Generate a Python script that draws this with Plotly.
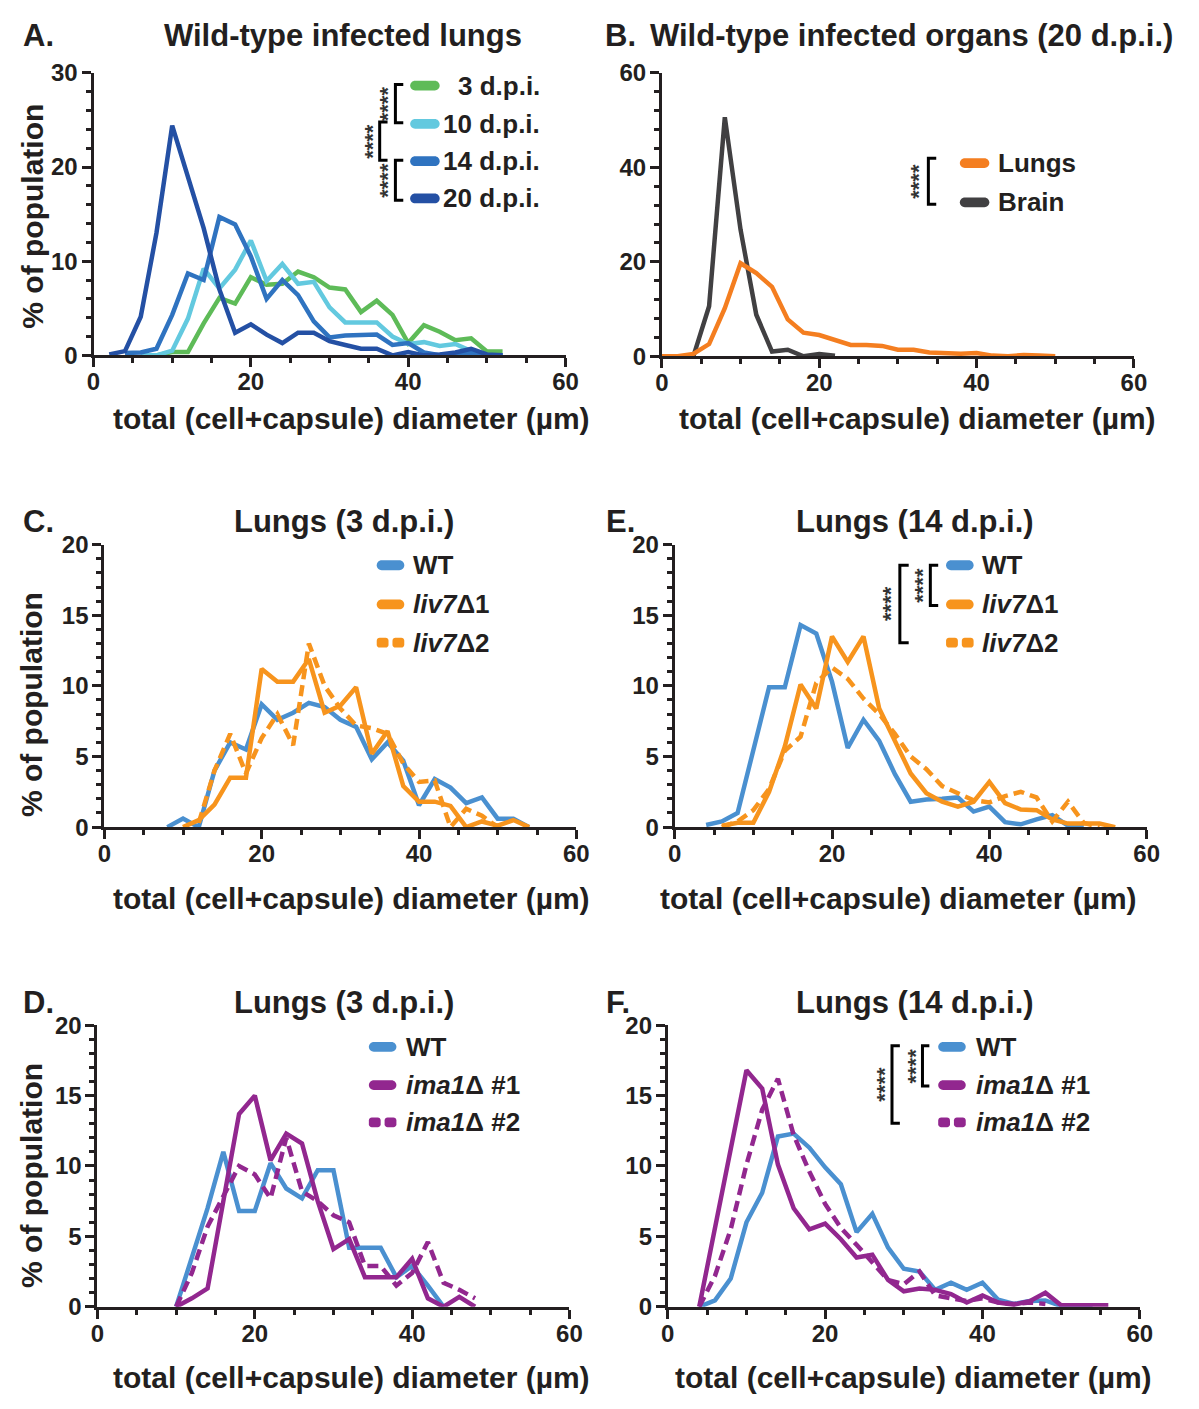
import plotly.graph_objects as go

W, H = 1199, 1409
INK = "#231F20"
FONT = "Liberation Sans"

# ---------------- data ----------------
# Panel A: wild-type infected lungs
a_x_3 = [8, 10, 12, 14, 16, 18, 20, 22, 24, 26, 28, 30, 32, 34, 36, 38, 40, 42, 44, 46, 48, 50, 52]
a_y_3 = [0, 0.35, 0.35, 3.4, 6.1, 5.5, 8.3, 7.5, 7.6, 8.9, 8.3, 7.2, 7.0, 4.6, 5.8, 4.3, 1.3, 3.2, 2.5, 1.6, 1.8, 0.4, 0.4]
a_x_10 = [6, 8, 10, 12, 14, 16, 18, 20, 22, 24, 26, 28, 30, 32, 34, 36, 38, 40, 42, 44, 46, 48, 50, 52]
a_y_10 = [0, 0, 0.5, 3.9, 9.2, 7.1, 9.1, 12.2, 7.9, 9.7, 7.6, 7.8, 5.1, 3.5, 3.5, 3.5, 2.0, 1.2, 1.4, 1.0, 1.2, 0.45, 0, 0]
a_x_14 = [4, 6, 8, 10, 12, 14, 16, 18, 20, 22, 24, 26, 28, 30, 32, 34, 36, 38, 40, 42, 44, 46, 48, 50, 52]
a_y_14 = [0.25, 0.3, 0.7, 4.3, 8.7, 8.0, 14.7, 13.9, 10.5, 6.0, 8.0, 6.4, 3.6, 1.9, 2.1, 2.1, 2.2, 1.1, 1.3, 0.3, 0, 0.2, 0.3, 0, 0]
a_x_20 = [2, 4, 6, 8, 10, 12, 14, 16, 18, 20, 22, 24, 26, 28, 30, 32, 34, 36, 38, 40, 42, 44, 46, 48, 50, 52]
a_y_20 = [0.1, 0.45, 4.1, 13.0, 24.4, 19.0, 13.5, 7.0, 2.4, 3.3, 2.2, 1.3, 2.4, 2.4, 1.5, 1.1, 0.7, 0.7, 0, 0.35, 0, 0.1, 0.3, 0.7, 0.1, 0]

# Panel B: wild-type infected organs (20 d.p.i.)
b_x_lungs = [0, 2, 4, 6, 8, 10, 12, 14, 16, 18, 20, 22, 24, 26, 28, 30, 32, 34, 36, 38, 40, 42, 44, 46, 48, 50]
b_y_lungs = [0, 0, 0.5, 2.6, 10.2, 19.7, 17.6, 14.7, 7.8, 5.0, 4.5, 3.4, 2.4, 2.4, 2.2, 1.4, 1.4, 0.8, 0.7, 0.55, 0.7, 0.15, 0, 0.3, 0.15, 0]
b_x_brain = [4, 6, 8, 10, 12, 14, 16, 18, 20, 22]
b_y_brain = [0, 10.6, 50.6, 26.8, 8.8, 1.0, 1.4, 0, 0.5, 0.1]

# Panel C: lungs 3 d.p.i., WT vs liv7 mutants
c_x_wt = [8, 10, 12, 14, 16, 18, 20, 22, 24, 26, 28, 30, 32, 34, 36, 38, 40, 42, 44, 46, 48, 50, 52, 54]
c_y_wt = [0, 0.6, 0, 4.0, 6.0, 5.5, 8.7, 7.6, 8.1, 8.8, 8.5, 7.6, 7.1, 4.8, 6.0, 4.7, 1.55, 3.4, 2.8, 1.7, 2.1, 0.6, 0.6, 0]
c_x_m1 = [10, 12, 14, 16, 18, 20, 22, 24, 26, 28, 30, 32, 34, 36, 38, 40, 42, 44, 46, 48, 50, 52, 54]
c_y_m1 = [0, 0.5, 1.6, 3.5, 3.5, 11.2, 10.3, 10.3, 11.9, 8.1, 8.6, 9.9, 5.2, 6.8, 2.9, 1.8, 1.8, 1.5, 0, 0.4, 0.1, 0.5, 0]
c_x_m2 = [12, 14, 16, 18, 20, 22, 24, 26, 28, 30, 32, 34, 36, 38, 40, 42, 44, 46, 48, 50]
c_y_m2 = [0.3, 4.0, 6.6, 3.8, 6.3, 8.0, 5.8, 13.0, 10.0, 8.4, 7.2, 7.0, 6.6, 4.5, 3.2, 3.3, 0, 1.3, 0.8, 0]

# Panel E: lungs 14 d.p.i., WT vs liv7 mutants
e_x_wt = [4, 6, 8, 10, 12, 14, 16, 18, 20, 22, 24, 26, 28, 30, 32, 34, 36, 38, 40, 42, 44, 46, 48, 50, 52]
e_y_wt = [0.15, 0.4, 1.0, 5.5, 9.9, 9.9, 14.3, 13.7, 10.3, 5.6, 7.6, 6.1, 3.75, 1.8, 1.95, 2.0, 2.1, 1.1, 1.45, 0.35, 0.2, 0.55, 0.85, 0.1, 0]
e_x_m1 = [6, 8, 10, 12, 14, 16, 18, 20, 22, 24, 26, 28, 30, 32, 34, 36, 38, 40, 42, 44, 46, 48, 50, 52, 54, 56]
e_y_m1 = [0.1, 0.3, 0.3, 2.5, 5.7, 10.1, 8.4, 13.5, 11.7, 13.5, 8.4, 6.1, 3.8, 2.4, 1.8, 1.45, 1.8, 3.2, 1.7, 1.25, 1.2, 0.55, 0.25, 0.25, 0.25, 0]
e_x_m2 = [6, 8, 10, 12, 14, 16, 18, 20, 22, 24, 26, 28, 30, 32, 34, 36, 38, 40, 42, 44, 46, 48, 50, 52, 54]
e_y_m2 = [0, 0.4, 1.2, 2.7, 5.4, 6.4, 10.2, 11.3, 10.5, 9.1, 8.0, 6.6, 5.0, 4.1, 2.9, 2.4, 1.9, 1.75, 2.2, 2.5, 2.1, 0.4, 1.8, 0.3, 0]

# Panel D: lungs 3 d.p.i., WT vs ima1 mutants
d_x_wt = [10, 12, 14, 16, 18, 20, 22, 24, 26, 28, 30, 32, 34, 36, 38, 40, 42, 44]
d_y_wt = [0, 3.6, 7.0, 11.0, 6.8, 6.8, 10.2, 8.4, 7.7, 9.7, 9.7, 4.2, 4.2, 4.2, 2.1, 2.9, 1.5, 0]
d_x_m1 = [10, 12, 14, 16, 18, 20, 22, 24, 26, 28, 30, 32, 34, 36, 38, 40, 42, 44, 46, 48]
d_y_m1 = [0, 0.6, 1.3, 7.3, 13.7, 15.0, 10.4, 12.3, 11.6, 7.5, 4.1, 4.8, 2.1, 2.1, 2.1, 3.4, 0.6, 0, 0.7, 0]
d_x_m2 = [10, 12, 14, 16, 18, 20, 22, 24, 26, 28, 30, 32, 34, 36, 38, 40, 42, 44, 46, 48]
d_y_m2 = [0, 2.4, 5.7, 7.9, 10.0, 9.4, 7.7, 12.0, 8.2, 7.5, 6.5, 6.0, 2.9, 2.9, 1.5, 2.4, 4.6, 1.7, 1.2, 0.6]

# Panel F: lungs 14 d.p.i., WT vs ima1 mutants
f_x_wt = [4, 6, 8, 10, 12, 14, 16, 18, 20, 22, 24, 26, 28, 30, 32, 34, 36, 38, 40, 42, 44, 46, 48, 50, 52, 54]
f_y_wt = [0, 0.45, 2.0, 6.0, 8.1, 12.1, 12.3, 11.3, 9.9, 8.7, 5.3, 6.6, 4.2, 2.7, 2.5, 1.2, 1.7, 1.2, 1.7, 0.5, 0.2, 0.4, 0.45, 0.05, 0.05, 0]
f_x_m1 = [4, 10, 12, 14, 16, 18, 20, 22, 24, 26, 28, 30, 32, 34, 36, 38, 40, 42, 44, 46, 48, 50, 52, 54, 56]
f_y_m1 = [0, 16.8, 15.5, 10.1, 7.0, 5.5, 5.9, 4.8, 3.5, 3.7, 1.9, 1.1, 1.3, 1.2, 0.9, 0.3, 0.8, 0.3, 0.15, 0.4, 1.0, 0.1, 0.1, 0.1, 0.1]
f_x_m2 = [4, 6, 8, 10, 12, 14, 16, 18, 20, 22, 24, 26, 28, 30, 32, 34, 36, 38, 40, 42, 44, 46, 48]
f_y_m2 = [0, 2.2, 5.5, 10.1, 14.0, 16.2, 12.2, 9.6, 7.3, 5.6, 4.4, 3.1, 1.9, 1.6, 2.5, 0.8, 0.6, 0.4, 0.6, 0.3, 0.2, 0.3, 0.2]

x_ticks = [0, 20, 40, 60]
x_title = "total (cell+capsule) diameter (µm)"
y_title = "% of population"

# ---------------- colours ----------------
C_3 = "#5EBB58"
C_10 = "#63C9DF"
C_14 = "#2F73C0"
C_20 = "#2450A4"
C_LUNG = "#F47E20"
C_BRAIN = "#414042"
C_WT = "#4A90D0"
C_LIV = "#F7941D"
C_IMA = "#92278F"


def X(p):
    return p / W


def Y(p):
    return 1 - p / H


# panel geometry in pixels: left, right, top, bottom
panels = {
    "A": dict(ax="", box=(88, 568, 60, 348), ymax=30, ydt=10, ymin=2),
    "B": dict(ax="2", box=(666, 1146, 60, 349), ymax=60, ydt=20, ymin=4),
    "C": dict(ax="3", box=(99, 579, 541, 829), ymax=20, ydt=5, ymin=1),
    "E": dict(ax="4", box=(679, 1159, 541, 829), ymax=20, ydt=5, ymin=1),
    "D": dict(ax="5", box=(92, 572, 1031, 1318), ymax=20, ydt=5, ymin=1),
    "F": dict(ax="6", box=(672, 1152, 1031, 1318), ymax=20, ydt=5, ymin=1),
}

fig = go.Figure()
tickfont = dict(family=FONT, size=24, color=INK, weight="bold")

for key, p in panels.items():
    l, r, t, b = p["box"]
    common = dict(
        ticks="outside", ticklen=9, tickwidth=3, tickcolor=INK,
        showline=True, linewidth=3, linecolor=INK,
        showgrid=False, zeroline=False, tickfont=tickfont, fixedrange=True,
    )
    fig.layout["xaxis" + p["ax"]] = dict(
        domain=[X(l), X(r)], range=[0, 60], tickvals=x_ticks,
        anchor="y" + p["ax"], ticklabelstandoff=-6,
        minor=dict(dtick=5, tick0=0, ticks="outside", ticklen=5, tickwidth=2.5, tickcolor=INK, showgrid=False),
        **common,
    )
    fig.layout["yaxis" + p["ax"]] = dict(
        domain=[Y(b), Y(t)], range=[0, p["ymax"]], dtick=p["ydt"], tick0=0,
        anchor="x" + p["ax"], ticklabelstandoff=-1,
        minor=dict(dtick=p["ymin"], tick0=0, ticks="outside", ticklen=5, tickwidth=2.5, tickcolor=INK, showgrid=False),
        **common,
    )


def add_line(ax, xs, ys, color, dash="solid"):
    fig.add_trace(go.Scatter(
        x=xs, y=ys, mode="lines", xaxis="x" + ax, yaxis="y" + ax,
        line=dict(color=color, width=4.5, dash=dash), showlegend=False, hoverinfo="skip",
    ))


DASH = "11px,6px"
add_line("", a_x_3, a_y_3, C_3)
add_line("", a_x_10, a_y_10, C_10)
add_line("", a_x_14, a_y_14, C_14)
add_line("", a_x_20, a_y_20, C_20)

add_line("2", b_x_brain, b_y_brain, C_BRAIN)
add_line("2", b_x_lungs, b_y_lungs, C_LUNG)

add_line("3", c_x_wt, c_y_wt, C_WT)
add_line("3", c_x_m2, c_y_m2, C_LIV, DASH)
add_line("3", c_x_m1, c_y_m1, C_LIV)

add_line("4", e_x_wt, e_y_wt, C_WT)
add_line("4", e_x_m2, e_y_m2, C_LIV, DASH)
add_line("4", e_x_m1, e_y_m1, C_LIV)

add_line("5", d_x_wt, d_y_wt, C_WT)
add_line("5", d_x_m2, d_y_m2, C_IMA, DASH)
add_line("5", d_x_m1, d_y_m1, C_IMA)

add_line("6", f_x_wt, f_y_wt, C_WT)
add_line("6", f_x_m2, f_y_m2, C_IMA, DASH)
add_line("6", f_x_m1, f_y_m1, C_IMA)

shapes = []
annotations = []


def rrect(x0, x1, yc, color, h=10, rc=5):
    """rounded rectangle from x0 to x1 (px), centred on yc, corner radius rc"""
    k = 0.5523 * rc
    y0, y1 = yc - h / 2, yc + h / 2
    segs = [
        ("M", [(x0 + rc, y0)]),
        ("L", [(x1 - rc, y0)]),
        ("C", [(x1 - rc + k, y0), (x1, y0 + rc - k), (x1, y0 + rc)]),
        ("L", [(x1, y1 - rc)]),
        ("C", [(x1, y1 - rc + k), (x1 - rc + k, y1), (x1 - rc, y1)]),
        ("L", [(x0 + rc, y1)]),
        ("C", [(x0 + rc - k, y1), (x0, y1 - rc + k), (x0, y1 - rc)]),
        ("L", [(x0, y0 + rc)]),
        ("C", [(x0, y0 + rc - k), (x0 + rc - k, y0), (x0 + rc, y0)]),
    ]
    path = " ".join(cmd + " " + " ".join(f"{X(px):.5f},{Y(py):.5f}" for px, py in pp) for cmd, pp in segs) + " Z"
    shapes.append(dict(type="path", xref="paper", yref="paper", path=path,
                       fillcolor=color, line=dict(width=0), layer="above"))


def sample(x_left, x_right, yc, color, dashed=False):
    if not dashed:
        rrect(x_left, x_right, yc, color, h=10, rc=5)
    else:
        mid = (x_left + x_right) / 2
        rrect(x_left, mid - 2, yc, color, h=10, rc=3)
        rrect(mid + 2, x_right, yc, color, h=10, rc=3)


def text(x, y, s, size=26, anchor="left", weight="bold", color=INK, angle=0):
    annotations.append(dict(
        x=X(x), y=Y(y), xref="paper", yref="paper", text=s, showarrow=False,
        xanchor=anchor, yanchor="middle", textangle=angle,
        font=dict(family=FONT, size=size, color=color, weight=weight),
    ))


def bracket(xv, y1, y2, xt, xs):
    path = f"M {X(xt):.5f},{Y(y1):.5f} L {X(xv):.5f},{Y(y1):.5f} L {X(xv):.5f},{Y(y2):.5f} L {X(xt):.5f},{Y(y2):.5f}"
    shapes.append(dict(type="path", xref="paper", yref="paper", path=path,
                       line=dict(color="black", width=3), layer="above"))
    text(xs, (y1 + y2) / 2, "****", size=22, anchor="center", weight="bold", color="#333333", angle=-90)


# ---- Panel A legend ----
for yc, col, lab in [(73, C_3, "3 d.p.i."), (112, C_10, "10 d.p.i."),
                     (150, C_14, "14 d.p.i."), (188, C_20, "20 d.p.i.")]:
    sample(410, 440, yc, col)
    text(544, yc, lab, anchor="right")
bracket(395, 72, 111, 403, 387)
bracket(379, 110, 149, 387, 371)
bracket(395, 149, 190, 403, 387)

# ---- Panel B legend ----
sample(969, 999, 152, C_LUNG)
text(1006, 152, "Lungs")
sample(969, 999, 192, C_BRAIN)
text(1006, 192, "Brain")
bracket(937, 147, 194, 945, 927)

# ---- Panel C legend ----
sample(376, 404, 562, C_WT)
text(411, 562, "WT")
sample(376, 404, 602, C_LIV)
text(411, 602, "<i>liv7</i>Δ1")
sample(376, 404, 641, C_LIV, dashed=True)
text(411, 641, "<i>liv7</i>Δ2")

# ---- Panel E legend ----
sample(955, 983, 562, C_WT)
text(990, 562, "WT")
sample(955, 983, 602, C_LIV)
text(990, 602, "<i>liv7</i>Δ1")
sample(955, 983, 641, C_LIV, dashed=True)
text(990, 641, "<i>liv7</i>Δ2")
bracket(939, 562, 603, 947, 931)
bracket(908, 562, 641, 917, 899)

# ---- Panel D legend ----
sample(368, 396, 1053, C_WT)
text(404, 1053, "WT")
sample(368, 396, 1092, C_IMA)
text(404, 1092, "<i>ima1</i>Δ #1")
sample(368, 396, 1130, C_IMA, dashed=True)
text(404, 1130, "<i>ima1</i>Δ #2")

# ---- Panel F legend ----
sample(947, 975, 1053, C_WT)
text(983, 1053, "WT")
sample(947, 975, 1092, C_IMA)
text(983, 1092, "<i>ima1</i>Δ #1")
sample(947, 975, 1130, C_IMA, dashed=True)
text(983, 1130, "<i>ima1</i>Δ #2")
bracket(931, 1052, 1093, 938, 924)
bracket(900, 1052, 1131, 908, 892)

# ---- panel titles ----
TS = 31
text(14, 22, "A.", size=TS)
text(342, 22, "Wild-type infected lungs", size=TS, anchor="center")
text(606, 22, "B.", size=TS)
text(652, 22, "Wild-type infected organs (20 d.p.i.)", size=TS)
text(14, 517, "C.", size=TS)
text(343, 517, "Lungs (3 d.p.i.)", size=TS, anchor="center")
text(607, 517, "E.", size=TS)
text(923, 517, "Lungs (14 d.p.i.)", size=TS, anchor="center")
text(14, 1008, "D.", size=TS)
text(343, 1008, "Lungs (3 d.p.i.)", size=TS, anchor="center")
text(607, 1008, "F.", size=TS)
text(923, 1008, "Lungs (14 d.p.i.)", size=TS, anchor="center")

# ---- axis titles ----
AS = 30
for xc, yc in [(350, 412), (926, 412), (350, 902), (907, 902), (350, 1390), (922, 1390)]:
    text(xc, yc, x_title, size=AS, anchor="center")
for yc in [206, 704, 1184]:
    text(25, yc, y_title, size=AS, anchor="center", angle=-90)

fig.update_layout(
    width=W, height=H, margin=dict(l=0, r=0, t=0, b=0),
    paper_bgcolor="white", plot_bgcolor="white",
    shapes=shapes, annotations=annotations, showlegend=False,
)

fig.write_html("out.html", config={"displayModeBar": False})
